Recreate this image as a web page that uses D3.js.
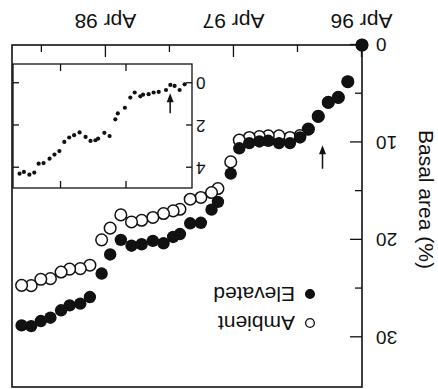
<!DOCTYPE html>
<html>
<head>
<meta charset="utf-8">
<script src="https://cdn.jsdelivr.net/npm/d3@7"></script>
<style>
  html, body { margin: 0; padding: 0; background: #fff; }
  svg text { font-family: "Liberation Sans", Arial, sans-serif; fill: #111; }
</style>
</head>
<body>
<svg id="chart" width="438" height="389"></svg>
<script>
// months counted from April 1996
const months   = [0, 1.33, 2.22, 3.16, 4.1, 5.03, 5.81, 6.75, 7.78, 8.78, 9.62, 10.56, 11.5, 12.3,
                  13.5, 14.1, 15.1, 16.1, 17.06, 17.7, 18.6, 19.6, 20.65, 21.6, 22.6, 23.6, 24.4,
                  25.5, 26.4, 27.4, 28.2, 29.2, 30.1, 31.0, 31.9];
const ambient  = [0, 3.77, 5.38, 5.89, 7.33, 8.63, 9.3, 9.49, 9.32, 9.32, 9.4, 9.49, 9.76, 12.0,
                  14.73, 15.14, 15.65, 15.83, 16.86, 17.03, 17.3, 17.7, 17.99, 18.16, 17.44, 18.8, 20.0,
                  22.6, 22.95, 23.0, 23.3, 23.98, 24.05, 24.7, 24.67];
const elevated = [0, 3.77, 5.38, 5.89, 7.33, 8.63, 9.49, 10.07, 10.07, 9.83, 9.9, 10.07, 10.6, 13.2,
                  16.1, 16.9, 18.25, 18.3, 19.4, 19.7, 20.35, 20.1, 20.45, 20.6, 20.0, 21.5, 23.46,
                  25.87, 26.55, 26.72, 27.23, 27.99, 28.33, 28.85, 28.78];

// inset: elevated minus ambient
const insetMonths = [1.35, 2.27, 3.19, 3.97, 4.76, 6.1, 7.03, 7.95, 8.97, 9.47, 10.5, 11.3, 12.3,
                     13.6, 14.05, 15.1, 16.06, 17.2, 17.7, 18.6, 19.5, 20.6, 21.6, 22.5, 23.4,
                     24.3, 25.2, 26.1, 27.2, 28.1, 28.9, 29.8, 30.8, 31.6];
const insetDiff   = [0.05, 0.32, 0.13, 0.08, 0.32, 0.41, 0.44, 0.52, 0.54, 0.62, 0.44, 0.68, 1.16,
                     1.43, 1.71, 2.5, 2.35, 2.62, 2.7, 2.73, 2.54, 2.33, 2.46, 2.57, 2.78,
                     3.21, 3.38, 3.57, 3.78, 3.81, 4.23, 4.33, 4.2, 4.28];

const seriesNames = ["Ambient", "Elevated"];
const xMajor = [0, 12, 24];
const xLabels = ["Apr 96", "Apr 97", "Apr 98"];
const xMinor = [6, 18, 30];
const yMajor = [0, 10, 20, 30];
const yMinor = [5, 15, 25];
const insetXTicks = [12, 24];
const insetYTicks = [0, 2, 4];
const arrowMonth = 3.7;
const yTitle = "Basal area (%)";

const W = 438, H = 389;
const svg = d3.select("#chart");
// the figure is printed upside down: draw upright, then turn the whole group
const root = svg.append("g").attr("transform", `rotate(180, ${W / 2}, ${H / 2})`);

const x = d3.scaleLinear().domain([0, 32.8]).range([76, 426]);
const y = d3.scaleLinear().domain([0, 35]).range([344, 3]);

const ix = d3.scaleLinear().domain([0, 32.8]).range([246, 425]);
const iy = d3.scaleLinear().domain([-0.91, 4.96]).range([325, 201]);

function styleAxis(g, size) {
    g.select(".domain").remove();
    g.selectAll("line").attr("stroke", "#111").attr("stroke-width", 1.3);
    g.selectAll("text").attr("font-size", size).attr("fill", "#111")
        .attr("font-family", "Liberation Sans, Arial, sans-serif");
}

// main axes
root.append("g").attr("transform", "translate(0,344)")
    .call(d3.axisBottom(x).tickValues(xMajor).tickFormat((d, i) => xLabels[i])
        .tickSizeInner(-12).tickSizeOuter(0).tickPadding(16))
    .call(g => styleAxis(g, 21));
root.append("g").attr("transform", "translate(0,344)")
    .call(d3.axisBottom(x).tickValues(xMinor).tickFormat("").tickSizeInner(-7).tickSizeOuter(0))
    .call(g => styleAxis(g, 21));
root.append("g").attr("transform", "translate(76,0)")
    .call(d3.axisLeft(y).tickValues(yMajor).tickSizeInner(-12).tickSizeOuter(0).tickPadding(14))
    .call(g => styleAxis(g, 19));
root.append("g").attr("transform", "translate(76,0)")
    .call(d3.axisLeft(y).tickValues(yMinor).tickFormat("").tickSizeInner(-7).tickSizeOuter(0))
    .call(g => styleAxis(g, 19));

root.append("rect")
    .attr("x", 76).attr("y", 2).attr("width", 350).attr("height", 342)
    .attr("fill", "none").attr("stroke", "#111").attr("stroke-width", 1.6);

root.append("text")
    .attr("transform", "translate(19,259) rotate(-90)")
    .attr("font-size", 21)
    .text(yTitle);

// inset
const inset = root.append("g");
inset.append("g").attr("transform", "translate(0,325)")
    .call(d3.axisBottom(ix).tickValues(insetXTicks).tickFormat("").tickSizeInner(-7).tickSizeOuter(0))
    .call(g => styleAxis(g, 17));
inset.append("g").attr("transform", "translate(0,201)")
    .call(d3.axisTop(ix).tickValues(insetXTicks).tickFormat("").tickSizeInner(-7).tickSizeOuter(0))
    .call(g => styleAxis(g, 17));
inset.append("g").attr("transform", "translate(246,0)")
    .call(d3.axisLeft(iy).tickValues(insetYTicks).tickFormat(d3.format("d"))
        .tickSizeInner(-6).tickSizeOuter(0).tickPadding(4))
    .call(g => styleAxis(g, 17));
inset.append("g").attr("transform", "translate(425,0)")
    .call(d3.axisRight(iy).tickValues(insetYTicks).tickFormat("").tickSizeInner(-6).tickSizeOuter(0))
    .call(g => styleAxis(g, 17));
inset.append("rect")
    .attr("x", 246).attr("y", 201).attr("width", 179).attr("height", 124)
    .attr("fill", "none").attr("stroke", "#111").attr("stroke-width", 1.3);

inset.selectAll("circle.diff")
    .data(insetMonths.map((m, i) => ({ m: m, v: insetDiff[i] })))
    .enter().append("circle")
    .attr("class", "diff")
    .attr("cx", d => ix(d.m)).attr("cy", d => iy(d.v))
    .attr("r", 2.1).attr("fill", "#111");

function drawArrow(g, px, yTail, yTip) {
    const dir = yTip > yTail ? 1 : -1;
    g.append("line")
        .attr("x1", px).attr("x2", px).attr("y1", yTail).attr("y2", yTip - dir * 6)
        .attr("stroke", "#111").attr("stroke-width", 1.5);
    g.append("path")
        .attr("d", `M${px},${yTip} L${px - 3.5},${yTip - dir * 9} L${px + 3.5},${yTip - dir * 9} Z`)
        .attr("fill", "#111");
}
drawArrow(root, x(arrowMonth), y(12.7), y(10.3));
drawArrow(inset, ix(4.0), iy(1.42), iy(0.47));

// main points: ambient first, elevated on top
const pts = months.map((m, i) => ({ m: m, a: ambient[i], e: elevated[i] }));
root.selectAll("circle.amb")
    .data(pts).enter().append("circle")
    .attr("class", "amb")
    .attr("cx", d => x(d.m)).attr("cy", d => y(d.a))
    .attr("r", 5.8).attr("fill", "#fff").attr("stroke", "#111").attr("stroke-width", 1.5);
root.selectAll("circle.elev")
    .data(pts).enter().append("circle")
    .attr("class", "elev")
    .attr("cx", d => x(d.m)).attr("cy", d => y(d.e))
    .attr("r", 6.2).attr("fill", "#111");

// legend
const legend = root.append("g").attr("transform", "translate(128,66)");
seriesNames.forEach((name, i) => {
    const row = legend.append("g").attr("transform", `translate(0,${i * 29})`);
    row.append("circle").attr("r", 4.4)
        .attr("fill", i === 0 ? "#fff" : "#111")
        .attr("stroke", "#111").attr("stroke-width", 1.3);
    row.append("text").attr("x", 15).attr("y", 7.5)
        .attr("font-size", 21).text(name);
});
</script>
</body>
</html>
